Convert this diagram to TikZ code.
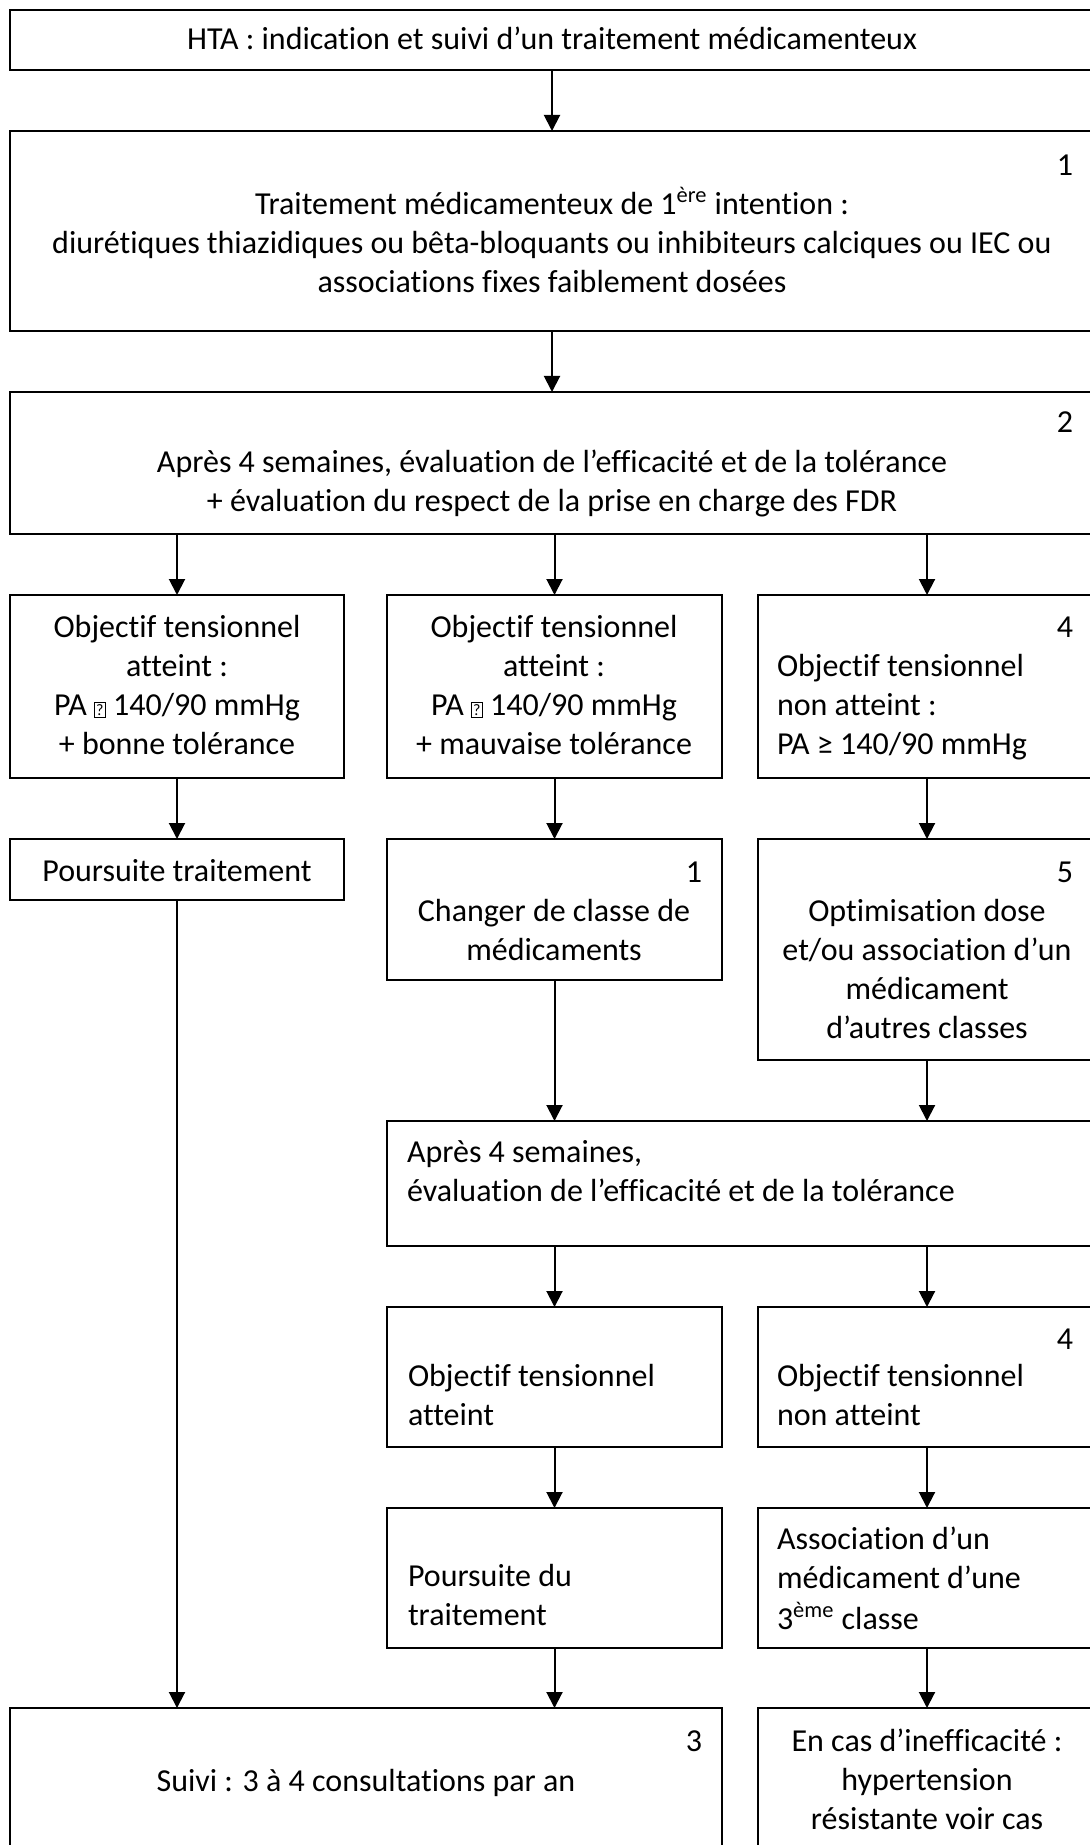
\documentclass[tikz,border=0pt]{standalone}
\usepackage{fontspec}
\setmainfont{Carlito}[Ligatures={TeX,NoCommon,NoRequired,NoContextual},Contextuals={NoAlternate}]
\usetikzlibrary{arrows.meta}

% fixed-height strut so every text line takes exactly one baselineskip
\newcommand\ls{\rule[-0.3\baselineskip]{0pt}{\baselineskip}}
% placeholder glyph shown for a character the font could not render
\newcommand\nogl{{\setlength\fboxsep{0.7pt}\setlength\fboxrule{0.4pt}\fbox{\fontsize{8}{8}\selectfont ?}}}
% box given by its corners (left, top, right, bottom)
\newcommand\flowbox[5]{\node[box, minimum width={(#4-#2)*0.5pt}, minimum height={(#5-#3)*0.5pt}] (#1) at ({(#2+#4)/2},{(#3+#5)/2}) {};}

\begin{document}
\begin{tikzpicture}[x=0.5pt,y=-0.5pt,
  box/.style={draw, line width=1pt, inner sep=0pt, outer sep=0pt},
  txt/.style={inner sep=0pt, outer sep=0pt, font=\fontsize{16}{19.5}\selectfont},
  num/.style={txt, anchor=north east},
  arr/.style={line width=1pt, -{Triangle[width=8pt,length=8pt]}}]
\useasboundingbox (0,0) rectangle (1090,1845);
\fill[white] (0,0) rectangle (1090,1845);

% boxes
\flowbox{title}{10}{10}{1094}{70}
\flowbox{first}{10}{131}{1094}{331}
\flowbox{eval}{10}{392}{1094}{534}
\flowbox{okgood}{10}{595}{344}{778}
\flowbox{okbad}{387}{595}{722}{778}
\flowbox{notok}{758}{595}{1096}{778}
\flowbox{cont}{10}{839}{344}{900}
\flowbox{change}{387}{839}{722}{980}
\flowbox{optim}{758}{839}{1096}{1060}
\flowbox{evaltwo}{387}{1121}{1096}{1246}
\flowbox{oktwo}{387}{1307}{722}{1447}
\flowbox{notoktwo}{758}{1307}{1096}{1447}
\flowbox{conttwo}{387}{1508}{722}{1648}
\flowbox{third}{758}{1508}{1096}{1648}
\flowbox{follow}{10}{1708}{722}{1900}
\flowbox{resist}{758}{1708}{1096}{1900}

% texts
\node[txt, anchor=north] (titleT) at (552,22) {\ls HTA : indication et suivi d’un traitement médicamenteux};

\node[num] (firstN) at (1073,148) {\ls 1};
\node[txt, anchor=north, align=center] (firstT) at (552,187) {\ls Traitement médicamenteux de 1\textsuperscript{ère} intention :\\
  \ls diurétiques thiazidiques ou bêta-bloquants ou inhibiteurs calciques ou IEC ou\\
  \ls associations fixes faiblement dosées};

\node[num] (evalN) at (1073,405) {\ls 2};
\node[txt, anchor=north, align=center] (evalT) at (552,445) {\ls Après 4 semaines, évaluation de l’efficacité et de la tolérance\\
  \ls + évaluation du respect de la prise en charge des FDR};

\node[txt, anchor=north, align=center] (okgoodT) at (177,610) {\ls Objectif tensionnel\\ \ls atteint :\\ \ls PA \nogl{} 140/90 mmHg\\ \ls + bonne tolérance};
\node[txt, anchor=north, align=center] (okbadT) at (554,610) {\ls Objectif tensionnel\\ \ls atteint :\\ \ls PA \nogl{} 140/90 mmHg\\ \ls + mauvaise tolérance};
\node[num] (notokN) at (1073,610) {\ls 4};
\node[txt, anchor=north west, align=left] (notokT) at (777,649) {\ls Objectif tensionnel\\ \ls non atteint :\\ \ls PA ≥ 140/90 mmHg};

\node[txt, anchor=north] (contT) at (177,854) {\ls Poursuite traitement};
\node[num] (changeN) at (702,855) {\ls 1};
\node[txt, anchor=north, align=center] (changeT) at (554,894) {\ls Changer de classe de\\ \ls médicaments};
\node[num] (optimN) at (1073,855) {\ls 5};
\node[txt, anchor=north, align=center] (optimT) at (927,894) {\ls Optimisation dose\\ \ls et/ou association d’un\\ \ls médicament\\ \ls d’autres classes};

\node[txt, anchor=north west, align=left] (evaltwoT) at (407,1135) {\ls Après 4 semaines,\\ \ls évaluation de l’efficacité et de la tolérance};

\node[txt, anchor=north west, align=left] (oktwoT) at (408,1359) {\ls Objectif tensionnel\\ \ls atteint};
\node[num] (notoktwoN) at (1073,1322) {\ls 4};
\node[txt, anchor=north west, align=left] (notoktwoT) at (777,1359) {\ls Objectif tensionnel\\ \ls non atteint};

\node[txt, anchor=north west, align=left] (conttwoT) at (408,1559) {\ls Poursuite du\\ \ls traitement};
\node[txt, anchor=north west, align=left] (thirdT) at (777,1522) {\ls Association d’un\\ \ls médicament d’une\\ \ls 3\textsuperscript{ème} classe};

\node[num] (followN) at (702,1724) {\ls 3};
\node[txt, anchor=north] (followT) at (366,1764) {\ls Suivi : 3 à 4 consultations par an};
\node[txt, anchor=north, align=center] (resistT) at (927,1724) {\ls En cas d’inefficacité :\\ \ls hypertension\\ \ls résistante voir cas};

% connectors
\draw[arr] (title.south) -- (first.north);
\draw[arr] (first.south) -- (eval.north);
\draw[arr] (okgood.north |- eval.south) -- (okgood.north);
\draw[arr] (okbad.north |- eval.south) -- (okbad.north);
\draw[arr] (notok.north |- eval.south) -- (notok.north);
\draw[arr] (okgood.south) -- (cont.north);
\draw[arr] (okbad.south) -- (change.north);
\draw[arr] (notok.south) -- (optim.north);
\draw[arr] (cont.south) -- (cont.south |- follow.north);
\draw[arr] (change.south) -- (change.south |- evaltwo.north);
\draw[arr] (optim.south) -- (optim.south |- evaltwo.north);
\draw[arr] (oktwo.north |- evaltwo.south) -- (oktwo.north);
\draw[arr] (notoktwo.north |- evaltwo.south) -- (notoktwo.north);
\draw[arr] (oktwo.south) -- (conttwo.north);
\draw[arr] (notoktwo.south) -- (third.north);
\draw[arr] (conttwo.south) -- (conttwo.south |- follow.north);
\draw[arr] (third.south) -- (resist.north);
\end{tikzpicture}
\end{document}
